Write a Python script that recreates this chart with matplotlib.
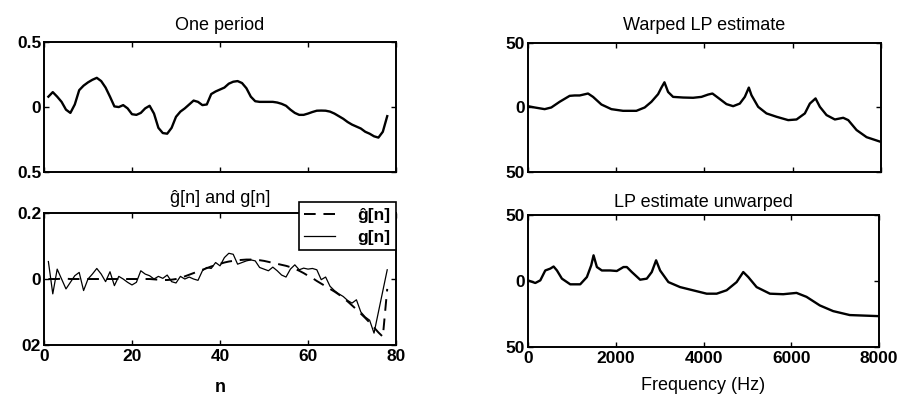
import matplotlib
matplotlib.use("Agg")
import matplotlib.pyplot as plt
from matplotlib.ticker import FixedLocator, FixedFormatter, NullFormatter

plt.rcParams['font.family'] = ['Liberation Sans', 'DejaVu Sans']

# ---- data ----
n = list(range(1, 79))

one_period = [0.08, 0.115, 0.08, 0.04, -0.02, -0.045, 0.02, 0.13, 0.165, 0.19,
              0.21, 0.225, 0.2, 0.15, 0.08, 0.005, 0.0, 0.015, -0.01, -0.055,
              -0.06, -0.045, -0.01, 0.01, -0.05, -0.16, -0.2, -0.205, -0.16, -0.075,
              -0.035, -0.01, 0.02, 0.05, 0.04, 0.015, 0.02, 0.1, 0.12, 0.135,
              0.15, 0.18, 0.195, 0.2, 0.185, 0.145, 0.08, 0.045, 0.04, 0.04,
              0.04, 0.04, 0.035, 0.025, 0.01, -0.02, -0.045, -0.06, -0.06, -0.05,
              -0.038, -0.028, -0.027, -0.028, -0.035, -0.05, -0.07, -0.09, -0.115, -0.135,
              -0.15, -0.165, -0.19, -0.205, -0.225, -0.235, -0.19, -0.07]

g = [0.053, -0.045, 0.03, 0.0, -0.03, -0.01, 0.01, 0.02, -0.035, 0.0,
     0.015, 0.032, 0.015, -0.008, 0.022, -0.02, 0.008, 0.0, -0.01, -0.018,
     -0.01, 0.025, 0.015, 0.01, 0.0, 0.008, 0.002, 0.012, -0.008, -0.012,
     0.008, 0.0, 0.006, 0.0, -0.004, 0.025, 0.035, 0.032, 0.05, 0.04,
     0.065, 0.078, 0.075, 0.045, 0.05, 0.055, 0.058, 0.055, 0.035, 0.03,
     0.025, 0.036, 0.025, 0.012, 0.006, 0.03, 0.043, 0.028, 0.033, 0.03,
     0.032, 0.028, -0.002, 0.006, -0.022, -0.035, -0.045, -0.053, -0.065, -0.073,
     -0.063, -0.1, -0.115, -0.125, -0.164, -0.1, -0.036, 0.028]

g_hat = [0.0, 0.0, 0.0, 0.001, 0.001, 0.0, 0.0, 0.0, 0.0, 0.0,
         0.0, 0.0, 0.0, 0.0, 0.0, 0.0, 0.0, 0.0, 0.0, 0.0,
         0.0, 0.0, 0.0, 0.0, -0.001, -0.002, -0.003, -0.003, -0.002, 0.0,
         0.003, 0.008, 0.013, 0.018, 0.023, 0.028, 0.033, 0.038, 0.042, 0.046,
         0.05, 0.053, 0.055, 0.057, 0.058, 0.059, 0.059, 0.058, 0.057, 0.055,
         0.052, 0.049, 0.046, 0.043, 0.04, 0.036, 0.031, 0.025, 0.018, 0.01,
         0.003, -0.006, -0.014, -0.022, -0.03, -0.038, -0.047, -0.057, -0.068, -0.08,
         -0.092, -0.105, -0.118, -0.132, -0.147, -0.162, -0.175, -0.03]

warp_f = [0, 151, 378, 529, 718, 945, 1059, 1172, 1361, 1475, 1664, 1890, 2155, 2457,
          2646, 2798, 2949, 3025, 3093, 3176, 3289, 3516, 3743, 3932, 4083, 4181,
          4310, 4499, 4650, 4801, 4915, 5006, 5066, 5217, 5406, 5633, 5898, 6087,
          6276, 6389, 6518, 6616, 6767, 6956, 7145, 7259, 7448, 7675, 7984]
warp_db = [1.0, 0.0, -1.3, 0.0, 4.4, 9.0, 9.3, 9.3, 10.8, 8.2, 2.3, -1.3, -2.6, -2.6,
           0.0, 4.4, 10.3, 15.4, 19.5, 12.0, 8.2, 7.7, 7.5, 8.2, 10.0, 10.8,
           7.5, 2.6, 1.0, 3.0, 8.2, 15.4, 9.5, 0.5, -4.6, -7.2, -9.8, -9.3,
           -4.6, 3.0, 7.0, 0.5, -5.9, -9.3, -8.0, -9.8, -17.5, -23.0, -26.5]

unwarp_f = [0, 167, 281, 394, 508, 584, 660, 773, 963, 1190, 1342, 1441, 1494, 1570,
            1683, 1873, 2024, 2176, 2252, 2366, 2555, 2707, 2820, 2919, 3010, 3199,
            3465, 3768, 4071, 4299, 4526, 4754, 4905, 5019, 5209, 5512, 5815, 6118,
            6346, 6649, 6952, 7331, 7976]
unwarp_db = [0.5, -1.5, 0.5, 8.0, 9.4, 11.0, 8.0, 1.8, -2.5, -2.5, 3.0, 11.9, 19.5, 10.6,
             8.0, 8.0, 7.6, 10.6, 10.6, 6.8, 1.0, 1.8, 6.8, 15.7, 8.0, -0.8,
             -4.6, -7.1, -9.6, -9.6, -7.0, -0.8, 6.8, 3.0, -4.6, -9.6, -10.0, -9.0,
             -12.0, -18.5, -22.8, -25.8, -26.6]

# ---- figure ----
fig = plt.figure(figsize=(9.05, 4.01), dpi=100)
ax1 = fig.add_axes([0.0486, 0.571, 0.389, 0.324])
ax2 = fig.add_axes([0.0486, 0.1397, 0.389, 0.329])
ax3 = fig.add_axes([0.5834, 0.571, 0.390, 0.322])
ax4 = fig.add_axes([0.5834, 0.1347, 0.388, 0.329])

TICK_SIZE = 12.5
TITLE_SIZE = 13


def style(ax, xticks, yticks, ylabels, xlabels):
    for s in ax.spines.values():
        s.set_linewidth(1.4)
        s.set_color('black')
    ax.xaxis.set_major_locator(FixedLocator(xticks))
    ax.yaxis.set_major_locator(FixedLocator(yticks))
    ax.yaxis.set_major_formatter(FixedFormatter(ylabels))
    if xlabels is None:
        ax.xaxis.set_major_formatter(NullFormatter())
    else:
        ax.xaxis.set_major_formatter(FixedFormatter(xlabels))
    ax.tick_params(direction='in', length=3.5, width=1, top=True, right=True,
                   labelsize=TICK_SIZE)
    for lab in ax.get_xticklabels() + ax.get_yticklabels():
        lab.set_fontweight('bold')
    ax.tick_params(axis='y', pad=2)
    ax.tick_params(axis='x', pad=3)


# One period
ax1.plot(n, one_period, color='black', lw=1.7)
ax1.set_xlim(0, 80)
ax1.set_ylim(-0.5, 0.5)
style(ax1, [0, 20, 40, 60, 80], [-0.5, 0, 0.5], ['0.5', '0', '0.5'], None)
ax1.set_title('One period', fontsize=TITLE_SIZE, pad=9)

# g[n] and g_hat[n]
ax2.plot(n, g_hat, color='black', lw=1.4, ls=(0, (6, 4)), label='ĝ[n]')
ax2.plot(n, g, color='black', lw=0.9, label='g[n]')
ax2.set_xlim(0, 80)
ax2.set_ylim(-0.2, 0.2)
style(ax2, [0, 20, 40, 60, 80], [-0.2, 0, 0.2], ['02', '0', '0.2'],
      ['0', '20', '40', '60', '80'])
ax2.set_title('ĝ[n] and g[n]', fontsize=TITLE_SIZE, pad=7)
ax2.set_xlabel('n', fontsize=TITLE_SIZE, fontweight='bold', labelpad=11)
leg = ax2.legend(loc='upper right', bbox_to_anchor=(1.0, 1.08), fancybox=False,
                 framealpha=1, edgecolor='black', fontsize=12.5, handlelength=1.8,
                 handletextpad=1.3, borderpad=0.3, labelspacing=0.4,
                 borderaxespad=0)
leg.get_frame().set_linewidth(1.2)
for t in leg.get_texts():
    t.set_fontweight('bold')

# Warped LP estimate
ax3.plot(warp_f, warp_db, color='black', lw=1.7)
ax3.set_xlim(0, 8000)
ax3.set_ylim(-50, 50)
style(ax3, [0, 2000, 4000, 6000, 8000], [-50, 0, 50], ['50', '0', '50'], None)
ax3.set_title('Warped LP estimate', fontsize=TITLE_SIZE, pad=9)

# LP estimate unwarped
ax4.plot(unwarp_f, unwarp_db, color='black', lw=1.7)
ax4.set_xlim(0, 8000)
ax4.set_ylim(-50, 50)
style(ax4, [0, 2000, 4000, 6000, 8000], [-50, 0, 50], ['50', '0', '50'],
      ['0', '2000', '4000', '6000', '8000'])
ax4.set_title('LP estimate unwarped', fontsize=TITLE_SIZE, pad=6)
ax4.set_xlabel('Frequency (Hz)', fontsize=TITLE_SIZE, labelpad=8)

fig.savefig('out.png', dpi=100)
